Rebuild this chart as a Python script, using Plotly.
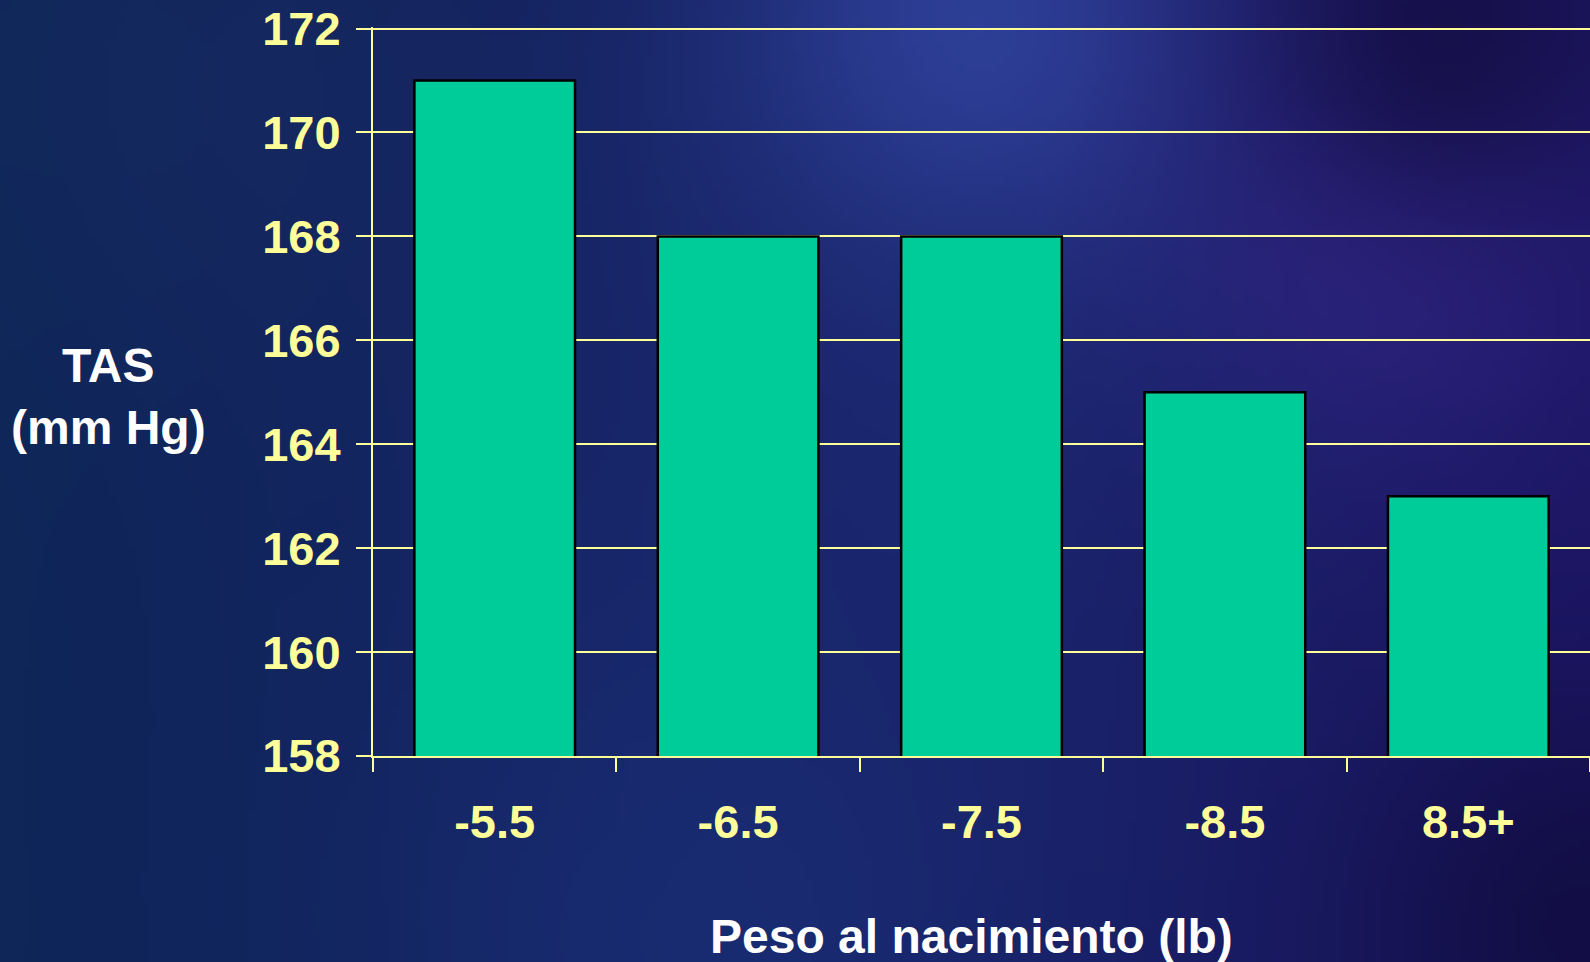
import base64, struct, zlib
import numpy as np
import plotly.graph_objects as go

# ---- data ----
categories = ["-5.5", "-6.5", "-7.5", "-8.5", "8.5+"]
tas_values = [171, 168, 168, 165, 163]
y_ticks = [158, 160, 162, 164, 166, 168, 170, 172]

W, H = 1590, 962
L, R, T, B = 373, 0, 27, 206
PW, PH = W - L - R, H - T - B

# ---- background image (smooth blue gradient) ----
iw, ih = 240, 145
xs = np.linspace(0, W, iw)[None, :]
ys = np.linspace(0, H, ih)[:, None]
t = (xs / W)
left = np.array([14, 38, 88], float)
right = np.array([28, 22, 100], float)
img = left[None, None, :] * (1 - t[..., None]) + right[None, None, :] * t[..., None]
img = np.broadcast_to(img, (ih, iw, 3)).copy()
blobs = [
    ((980, 40), 190, (52, 72, 165), 0.85),
    ((1380, 240), 160, (58, 40, 145), 0.6),
    ((1440, 40), 130, (18, 12, 62), 0.75),
    ((1590, 930), 160, (14, 10, 55), 0.7),
    ((200, 80), 220, (26, 46, 100), 0.4),
    ((720, 950), 260, (28, 55, 130), 0.5),
    ((850, 450), 300, (30, 46, 122), 0.45),
]
for (cx, cy), s, col, k in blobs:
    wgt = k * np.exp(-(((xs - cx) ** 2 + (ys - cy) ** 2) / (2 * s * s)))
    img = img * (1 - wgt[..., None]) + np.array(col, float)[None, None, :] * wgt[..., None]
img = np.clip(img, 0, 255).astype(np.uint8)


def to_png(a):
    h, w, _ = a.shape
    raw = b"".join(b"\x00" + a[i].tobytes() for i in range(h))

    def chunk(tag, data):
        c = struct.pack(">I", len(data)) + tag + data
        return c + struct.pack(">I", zlib.crc32(tag + data) & 0xFFFFFFFF)

    return (b"\x89PNG\r\n\x1a\n" + chunk(b"IHDR", struct.pack(">IIBBBBB", w, h, 8, 2, 0, 0, 0))
            + chunk(b"IDAT", zlib.compress(raw, 9)) + chunk(b"IEND", b""))


bg_uri = "data:image/png;base64," + base64.b64encode(to_png(img)).decode()

YEL = "#FFFF99"
FONT = "Arial, 'Liberation Sans', sans-serif"

fig = go.Figure(go.Bar(
    x=categories, y=tas_values,
    marker=dict(color="#00CC99", line=dict(color="black", width=2.5)),
    width=0.66,
))

fig.update_layout(
    width=W, height=H,
    margin=dict(l=L, r=R, t=T, b=B),
    paper_bgcolor="#142660", plot_bgcolor="rgba(0,0,0,0)",
    showlegend=False,
    images=[dict(source=bg_uri, xref="paper", yref="paper",
                 x=-L / PW, y=1 + T / PH, sizex=W / PW, sizey=H / PH,
                 xanchor="left", yanchor="top", sizing="stretch", layer="below")],
    xaxis=dict(
        range=[-0.5, 4.5], showline=True, linecolor=YEL, linewidth=2,
        ticks="outside", tickson="boundaries", ticklen=14, tickcolor=YEL, tickwidth=2,
        showgrid=False, ticklabelstandoff=24,
        tickfont=dict(family=FONT, size=47, color=YEL, weight="bold"),
    ),
    yaxis=dict(
        range=[158, 172.03], tickvals=y_ticks, showline=True, linecolor=YEL, linewidth=2,
        ticks="outside", ticklen=15, tickcolor=YEL, tickwidth=2,
        showgrid=True, gridcolor=YEL, gridwidth=2, zeroline=False,
        ticklabelstandoff=6,
        tickfont=dict(family=FONT, size=47, color=YEL, weight="bold"),
    ),
    annotations=[
        dict(text="TAS<br>(mm Hg)", xref="paper", yref="paper",
             x=(108 - L) / PW, y=1 - (396 - T) / PH, xanchor="center", yanchor="middle",
             showarrow=False, align="center",
             font=dict(family=FONT, size=48, color="white", weight="bold")),
        dict(text="Peso al nacimiento (lb)", xref="paper", yref="paper",
             x=(971 - L) / PW, y=1 - (936 - T) / PH, xanchor="center", yanchor="middle",
             showarrow=False,
             font=dict(family=FONT, size=48, color="white", weight="bold")),
    ],
)

fig.write_html("out.html")
